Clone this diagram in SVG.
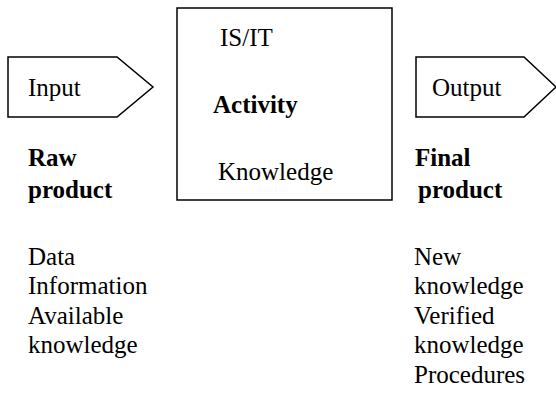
<svg xmlns="http://www.w3.org/2000/svg" width="556" height="400" viewBox="0 0 556 400">
  <style>
    .shape { fill: #ffffff; stroke: #000000; stroke-width: 1.5; }
    text { font-family: 'Liberation Serif', 'Times New Roman', serif !important; font-size: 25px; fill: #000000; }
    .b { font-weight: bold; }
  </style>
  <rect width="556" height="400" fill="#ffffff"/>

  <!-- input arrow -->
  <g id="input">
    <polygon class="shape" points="8,57 117,57 153,87 117,117 8,117"/>
    <text x="28" y="96" font-family="Liberation Serif" style="font-family:'Liberation Serif',serif">Input</text>
  </g>

  <!-- central activity box -->
  <g id="activity">
    <rect class="shape" x="177" y="8" width="215" height="192"/>
    <text x="220" y="46" font-family="Liberation Serif" style="font-family:'Liberation Serif',serif">IS/IT</text>
    <text class="b" x="213" y="113" font-family="Liberation Serif" style="font-family:'Liberation Serif',serif">Activity</text>
    <text x="218" y="180" font-family="Liberation Serif" style="font-family:'Liberation Serif',serif">Knowledge</text>
  </g>

  <!-- output arrow -->
  <g id="output">
    <polygon class="shape" points="416,57 524,57 556,87 524,117 416,117"/>
    <text x="432" y="96" font-family="Liberation Serif" style="font-family:'Liberation Serif',serif">Output</text>
  </g>

  <!-- raw product column -->
  <g id="raw-product">
    <text class="b" x="28" y="166" font-family="Liberation Serif" style="font-family:'Liberation Serif',serif">Raw</text>
    <text class="b" x="28" y="198" font-family="Liberation Serif" style="font-family:'Liberation Serif',serif">product</text>
    <text x="28" y="265" font-family="Liberation Serif" style="font-family:'Liberation Serif',serif">Data</text>
    <text x="28" y="294" font-family="Liberation Serif" style="font-family:'Liberation Serif',serif">Information</text>
    <text x="28" y="324" font-family="Liberation Serif" style="font-family:'Liberation Serif',serif">Available</text>
    <text x="28" y="353" font-family="Liberation Serif" style="font-family:'Liberation Serif',serif">knowledge</text>
  </g>

  <!-- final product column -->
  <g id="final-product">
    <text class="b" x="415" y="166" font-family="Liberation Serif" style="font-family:'Liberation Serif',serif">Final</text>
    <text class="b" x="418" y="198" font-family="Liberation Serif" style="font-family:'Liberation Serif',serif">product</text>
    <text x="414" y="265" font-family="Liberation Serif" style="font-family:'Liberation Serif',serif">New</text>
    <text x="414" y="294" font-family="Liberation Serif" style="font-family:'Liberation Serif',serif">knowledge</text>
    <text x="414" y="324" font-family="Liberation Serif" style="font-family:'Liberation Serif',serif">Verified</text>
    <text x="414" y="353" font-family="Liberation Serif" style="font-family:'Liberation Serif',serif">knowledge</text>
    <text x="414" y="383" font-family="Liberation Serif" style="font-family:'Liberation Serif',serif">Procedures</text>
  </g>

  <g id="connectors"/>
</svg>
